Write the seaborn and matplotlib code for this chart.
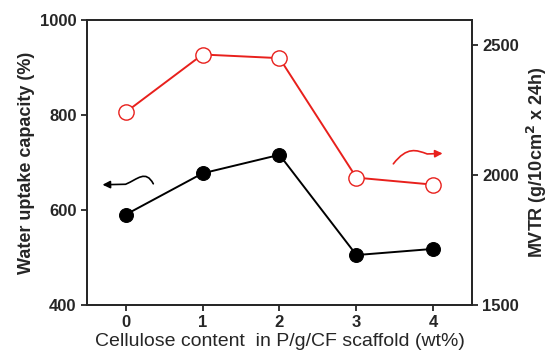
"""Water uptake capacity and MVTR vs cellulose content (dual axis)."""
import matplotlib
matplotlib.use("Agg")
import matplotlib.pyplot as plt
import pandas as pd
import seaborn as sns
from matplotlib.patches import FancyArrowPatch
from matplotlib.path import Path

# data
cellulose = [0, 1, 2, 3, 4]
water_uptake = [590, 677, 716, 505, 518]
mvtr = [2240, 2462, 2448, 1989, 1962]

sns.set_theme(style="ticks")
plt.rcParams["font.family"] = ["Liberation Sans", "DejaVu Sans"]
plt.rcParams["font.weight"] = "bold"

df = pd.DataFrame({"x": cellulose, "water": water_uptake, "mvtr": mvtr})

fig, ax = plt.subplots(figsize=(5.48, 3.55), dpi=100)
ax2 = ax.twinx()

sns.lineplot(data=df, x="x", y="water", ax=ax, color="black", lw=1.4,
             marker="o", markersize=10, markerfacecolor="black",
             markeredgecolor="black")
sns.lineplot(data=df, x="x", y="mvtr", ax=ax2, color="#e8201c", lw=1.4,
             marker="o", markersize=11, markerfacecolor="white",
             markeredgecolor="#e8201c", markeredgewidth=1.0)

ax.set_xlim(-0.5, 4.5)
ax.set_ylim(400, 1000)
ax.set_yticks([400, 600, 800, 1000])
ax.set_xticks(cellulose)
ax2.set_ylim(1500, 2595)
ax2.set_yticks([1500, 2000, 2500])

ax.set_xlabel("Cellulose content  in P/g/CF scaffold (wt%)", fontsize=14,
              fontweight="normal", labelpad=2)
ax.set_ylabel("Water uptake capacity (%)", fontsize=13, fontweight="bold")
ax2.set_ylabel("MVTR (g/10cm$^\\mathbf{2}$ x 24h)", fontsize=13,
               fontweight="bold")

for a in (ax, ax2):
    a.tick_params(labelsize=12, width=1.3, length=4, direction="out")
    for lab in a.get_xticklabels() + a.get_yticklabels():
        lab.set_fontweight("bold")
    for s in a.spines.values():
        s.set_linewidth(1.3)
        s.set_visible(True)

# wavy arrows pointing to each series' axis
codes = [Path.MOVETO, Path.CURVE4, Path.CURVE4, Path.CURVE4, Path.LINETO]
left_path = Path([(0.36, 655), (0.26, 685), (0.16, 665), (0.0, 654),
                  (-0.30, 653)], codes)
ax.add_patch(FancyArrowPatch(path=left_path, arrowstyle="-|>",
                             mutation_scale=11, color="black", lw=1.2,
                             transform=ax.transData))
right_path = Path([(3.48, 2042), (3.66, 2110), (3.78, 2095), (3.92, 2080),
                   (4.12, 2082)], codes)
ax2.add_patch(FancyArrowPatch(path=right_path, arrowstyle="-|>",
                              mutation_scale=11, color="#e8201c", lw=1.2,
                              transform=ax2.transData))

fig.subplots_adjust(left=0.159, right=0.861, top=0.944, bottom=0.141)
fig.savefig("out.png", dpi=100)
